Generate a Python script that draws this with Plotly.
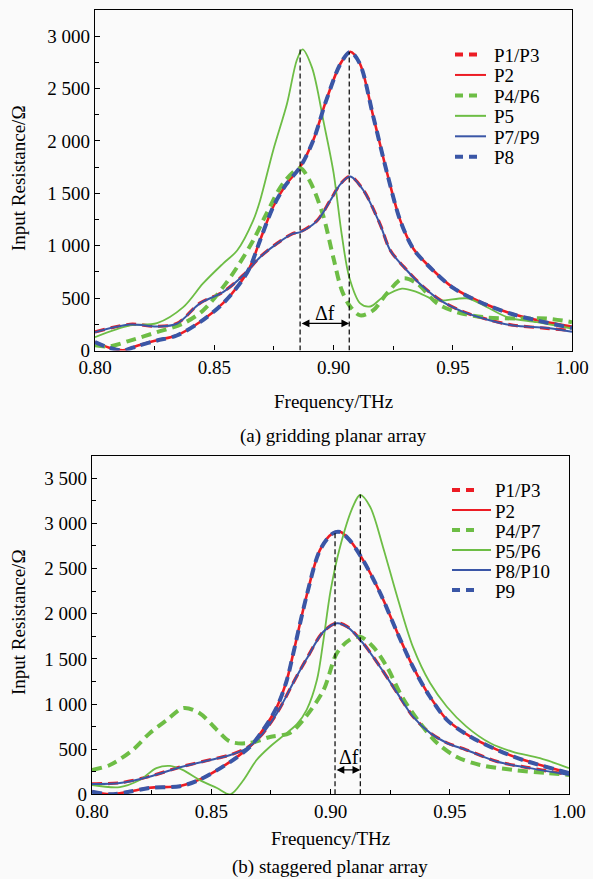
import plotly.graph_objects as go

# ---------------- (a) gridding planar array ----------------
a_f_p5 = [0.800, 0.8147, 0.826, 0.837, 0.8453, 0.8537, 0.8596, 0.8663, 0.8692, 0.8747, 0.8805, 0.8846, 0.887,
          0.891, 0.896, 0.900, 0.9035, 0.9066, 0.9112, 0.9154, 0.9208, 0.9287, 0.935, 0.9434, 0.956, 0.963,
          0.9728, 0.9853, 1.000]
a_v_p5 = [127, 239, 261, 414, 640, 830, 955, 1240, 1430, 1910, 2355, 2770, 2875,
          2700, 2165, 1700, 1100, 700, 450, 420, 510, 590, 557, 478, 497, 430,
          318, 270, 210]

a_f_p4p6 = [0.800, 0.806, 0.8147, 0.826, 0.837, 0.8453, 0.8537, 0.8596, 0.8663, 0.872, 0.879, 0.886, 0.890,
            0.8955, 0.900, 0.9035, 0.907, 0.9112, 0.9166, 0.9224, 0.9292, 0.935, 0.9434, 0.9518, 0.963, 0.977,
            0.9895, 1.000]
a_v_p4p6 = [50, 40, 95, 175, 258, 382, 605, 796, 1050, 1310, 1600, 1740, 1620,
            1300, 880, 573, 420, 335, 382, 545, 688, 640, 450, 366, 318, 305,
            305, 270]

a_f_high = [0.800, 0.806, 0.8118, 0.818, 0.826, 0.8343, 0.844, 0.8537, 0.8608, 0.865, 0.8692, 0.8747, 0.880,
            0.886, 0.8915, 0.897, 0.903, 0.907, 0.911, 0.9167, 0.9225, 0.928, 0.9335, 0.9406, 0.950, 0.9616,
            0.9741, 0.9853, 1.000]
a_v_p2 = [82, 27, 2, 47, 97, 145, 272, 452, 642, 798, 1052, 1372, 1582,
          1752, 2007, 2392, 2742, 2852, 2742, 2232, 1692, 1242, 972, 792, 602, 463,
          355, 290, 228]
a_v_p8 = [80, 25, 0, 45, 95, 143, 270, 450, 640, 796, 1050, 1370, 1580,
          1750, 2005, 2390, 2740, 2850, 2740, 2230, 1690, 1240, 970, 790, 600, 461,
          353, 287, 215]

a_f_low = [0.800, 0.8147, 0.826, 0.8343, 0.844, 0.8537, 0.8621, 0.8692, 0.8763, 0.883, 0.886, 0.8932, 0.8986,
           0.903, 0.907, 0.9125, 0.9196, 0.9238, 0.9308, 0.9377, 0.9448, 0.9546, 0.9658, 0.9754, 0.9895, 1.000]
a_v_p1p3 = [177, 250, 231, 257, 452, 559, 718, 893, 1022, 1117, 1132, 1242, 1432,
            1592, 1662, 1532, 1202, 957, 766, 607, 480, 368, 289, 241, 212, 190]
a_v_p7p9 = [175, 248, 229, 255, 450, 557, 716, 891, 1020, 1115, 1130, 1240, 1430,
            1590, 1660, 1530, 1200, 955, 764, 605, 478, 366, 287, 239, 215, 180]

a_peak_f = [0.886, 0.9066]
a_peak_v = [2875, 2850]

# ---------------- (b) staggered planar array ----------------
b_f_p4p7 = [0.800, 0.8075, 0.817, 0.8243, 0.8314, 0.8383, 0.845, 0.8524, 0.858, 0.866, 0.8746, 0.883, 0.8886,
            0.897, 0.9027, 0.908, 0.9124, 0.918, 0.9237, 0.930, 0.9375, 0.9447, 0.953, 0.9627, 0.9765, 0.9908,
            1.000]
b_v_p4p7 = [270, 325, 490, 680, 823, 955, 900, 713, 583, 568, 635, 680, 825,
            1150, 1565, 1710, 1745, 1630, 1410, 1080, 790, 568, 413, 325, 270, 235,
            215]

b_f_p5p6 = [0.800, 0.8117, 0.820, 0.827, 0.8327, 0.838, 0.845, 0.8524, 0.858, 0.8633, 0.869, 0.8746, 0.8817,
            0.886, 0.890, 0.8943, 0.897, 0.900, 0.904, 0.9094, 0.9124, 0.9166, 0.922, 0.928, 0.9346, 0.9417,
            0.9488, 0.957, 0.9669, 0.9765, 0.9878, 1.000]
b_v_p5p6 = [103, 80, 158, 290, 315, 270, 160, 70, 0, 150, 380, 527, 680,
            780, 935, 1265, 1700, 2250, 2740, 3185, 3315, 3185, 2740, 2185, 1630, 1235,
            970, 750, 568, 470, 400, 290]

b_f_high = [0.800, 0.8075, 0.815, 0.824, 0.837, 0.845, 0.858, 0.8662, 0.8717, 0.8776, 0.8817, 0.8843, 0.890,
            0.8956, 0.901, 0.904, 0.908, 0.9136, 0.9208, 0.928, 0.9346, 0.9417, 0.9488, 0.9585, 0.970, 0.9807,
            1.000]
b_v_p2 = [32, 2, 27, 72, 92, 162, 362, 529, 714, 972, 1267, 1552, 2202,
          2707, 2892, 2907, 2817, 2597, 2232, 1792, 1412, 1082, 827, 642, 492, 382,
          237]
b_v_p9 = [30, 0, 25, 70, 90, 160, 360, 527, 712, 970, 1265, 1550, 2200,
          2705, 2890, 2905, 2815, 2595, 2230, 1790, 1410, 1080, 825, 640, 490, 380,
          235]

b_f_low = [0.800, 0.8117, 0.824, 0.837, 0.8495, 0.858, 0.865, 0.8705, 0.8776, 0.885, 0.890, 0.897, 0.9027,
           0.907, 0.9136, 0.9208, 0.928, 0.9346, 0.9417, 0.9488, 0.957, 0.970, 0.9836, 1.000]
b_v_p1p3 = [117, 127, 197, 302, 382, 437, 515, 640, 902, 1267, 1502, 1802, 1897,
            1857, 1677, 1412, 1122, 862, 682, 570, 492, 362, 292, 217]
b_v_p8p10 = [115, 125, 195, 300, 380, 435, 513, 638, 900, 1265, 1500, 1800, 1895,
             1855, 1675, 1410, 1120, 860, 680, 568, 490, 360, 290, 215]

b_peak_f = [0.9019, 0.9125]
b_peak_v = [2905, 3320]

# tick labels
x_tickvals = [0.80, 0.85, 0.90, 0.95, 1.00]
x_ticktext = ["0.80", "0.85", "0.90", "0.95", "1.00"]
a_y_tickvals = [0, 500, 1000, 1500, 2000, 2500, 3000]
a_y_ticktext = ["0", "500", "1 000", "1 500", "2 000", "2 500", "3 000"]
b_y_tickvals = [0, 500, 1000, 1500, 2000, 2500, 3000, 3500]
b_y_ticktext = ["0", "500", "1 000", "1 500", "2 000", "2 500", "3 000", "3 500"]

RED = "#ec1c24"
GREEN = "#6dbd45"
BLUE = "#3a56a6"
FONT = "Liberation Serif, Times New Roman, DejaVu Serif, serif"
BG = "#fafafa"
DASH = "10px,6px"
FS = 19

W, H = 593, 879


def py(y):
    return 1 - y / H


fig = go.Figure()

series_a = [
    ("P1/P3", a_f_low, a_v_p1p3, RED, 3.2, DASH),
    ("P2", a_f_high, a_v_p2, RED, 2.6, "solid"),
    ("P4/P6", a_f_p4p6, a_v_p4p6, GREEN, 4, DASH),
    ("P5", a_f_p5, a_v_p5, GREEN, 1.8, "solid"),
    ("P7/P9", a_f_low, a_v_p7p9, BLUE, 2.0, "solid"),
    ("P8", a_f_high, a_v_p8, BLUE, 4, DASH),
]
series_b = [
    ("P1/P3", b_f_low, b_v_p1p3, RED, 3.2, DASH),
    ("P2", b_f_high, b_v_p2, RED, 2.6, "solid"),
    ("P4/P7", b_f_p4p7, b_v_p4p7, GREEN, 4, DASH),
    ("P5/P6", b_f_p5p6, b_v_p5p6, GREEN, 1.8, "solid"),
    ("P8/P10", b_f_low, b_v_p8p10, BLUE, 2.0, "solid"),
    ("P9", b_f_high, b_v_p9, BLUE, 4, DASH),
]

annotations = []
shapes = []

# legend geometry (pixels): symbol start, dashed end, solid end, text x, first row y, row step
legend_geom = {
    "a": (455, 482, 486, 492, 54.5, 20.45),
    "b": (452, 478, 491, 493, 490, 20.0),
}

for key, series, xa, ya in [("a", series_a, "x", "y"), ("b", series_b, "x2", "y2")]:
    x0, xd, xs, xt, y0, dy = legend_geom[key]
    for i, (name, xs_, ys_, color, width, dash) in enumerate(series):
        fig.add_trace(go.Scatter(
            x=xs_, y=ys_, name=name, mode="lines", showlegend=False,
            line=dict(color=color, width=width, dash=dash, shape="spline", smoothing=0.9),
            xaxis=xa, yaxis=ya))
        yc = y0 + i * dy
        x1 = xd if dash != "solid" else xs
        lw = 4 if dash != "solid" else 2
        shapes.append(dict(type="line", xref="paper", yref="paper",
                           x0=x0 / W, x1=x1 / W, y0=py(yc), y1=py(yc),
                           line=dict(color=color, width=lw, dash=("8px,6px" if dash != "solid" else "solid"))))
        annotations.append(dict(x=xt / W, y=py(yc + 1), xref="paper", yref="paper", text=name,
                                showarrow=False, xanchor="left", yanchor="middle",
                                font=dict(family=FONT, size=FS, color="black")))

axis_common = dict(showline=True, linecolor="black", linewidth=1.2, mirror=True,
                   ticks="inside", ticklen=5, tickwidth=1, tickcolor="black",
                   showgrid=False, zeroline=False, automargin=False,
                   tickfont=dict(family=FONT, size=FS, color="black"))

fig.update_layout(
    width=W, height=H,
    margin=dict(l=0, r=0, t=0, b=0, autoexpand=False),
    paper_bgcolor=BG, plot_bgcolor=BG,
    font=dict(family=FONT, size=FS, color="black"),
    showlegend=False,
    xaxis=dict(domain=[95 / W, 572 / W], anchor="y", range=[0.8, 1.0],
               tickmode="array", tickvals=x_tickvals, ticktext=x_ticktext,
               minor=dict(ticks="inside", ticklen=4, tickcolor="black", dtick=0.025, tick0=0.8),
               **axis_common),
    yaxis=dict(domain=[py(350.5), py(10)], anchor="x", range=[0, 3250],
               tickmode="array", tickvals=a_y_tickvals, ticktext=a_y_ticktext,
               minor=dict(ticks="inside", ticklen=4, tickcolor="black", dtick=250, tick0=0),
               **axis_common),
    xaxis2=dict(domain=[92 / W, 569 / W], anchor="y2", range=[0.8, 1.0],
                tickmode="array", tickvals=x_tickvals, ticktext=x_ticktext,
                minor=dict(ticks="inside", ticklen=4, tickcolor="black", dtick=0.025, tick0=0.8),
                **axis_common),
    yaxis2=dict(domain=[py(794.3), py(455.7)], anchor="x2", range=[0, 3750],
                tickmode="array", tickvals=b_y_tickvals, ticktext=b_y_ticktext,
                minor=dict(ticks="inside", ticklen=4, tickcolor="black", dtick=250, tick0=0),
                **axis_common),
)

# vertical dashed marker lines
for xa, ya, fs, vs in [("x", "y", a_peak_f, a_peak_v), ("x2", "y2", b_peak_f, b_peak_v)]:
    for f, v in zip(fs, vs):
        shapes.append(dict(type="line", xref=xa, yref=ya, x0=f, x1=f, y0=0, y1=v,
                           line=dict(color="black", width=1.2, dash="5px,3px")))

# double arrows
for xa, ya, fs, yv in [("x", "y", a_peak_f, 258), ("x2", "y2", b_peak_f, 270)]:
    annotations.append(dict(x=fs[1], y=yv, ax=fs[0], ay=yv, xref=xa, yref=ya, axref=xa, ayref=ya,
                            text="", showarrow=True, arrowhead=2, arrowsize=1.3, arrowwidth=1.2,
                            arrowside="end+start", arrowcolor="black", standoff=0, startstandoff=0))
annotations.append(dict(x=(a_peak_f[0] + a_peak_f[1]) / 2, y=360, xref="x", yref="y", text="Δf",
                        showarrow=False, xanchor="center", yanchor="middle", font=dict(family=FONT, size=20)))
annotations.append(dict(x=(b_peak_f[0] + b_peak_f[1]) / 2 + 0.0005, y=410, xref="x2", yref="y2", text="Δf",
                        showarrow=False, xanchor="center", yanchor="middle", font=dict(family=FONT, size=20)))

# axis titles and captions
for x, y, text, ang in [
    (333, 402, "Frequency/THz", 0),
    (333, 436, "(a) gridding planar array", 0),
    (330, 838, "Frequency/THz", 0),
    (330, 867, "(b) staggered planar array", 0),
    (18, 178, "Input Resistance/Ω", -90),
    (18, 622, "Input Resistance/Ω", -90),
]:
    annotations.append(dict(x=x / W, y=py(y), xref="paper", yref="paper", text=text, showarrow=False,
                            xanchor="center", yanchor="middle", textangle=ang,
                            font=dict(family=FONT, size=FS, color="black")))

fig.update_layout(annotations=annotations, shapes=shapes)

fig.write_html("out.html")
